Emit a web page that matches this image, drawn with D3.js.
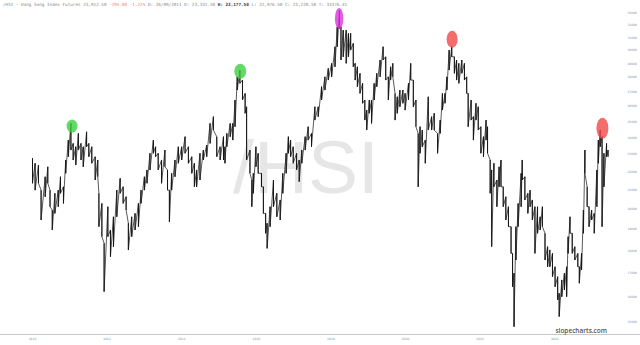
<!DOCTYPE html>
<html>
<head>
<meta charset="utf-8">
<script src="https://cdn.jsdelivr.net/npm/d3@7"></script>
<style>
  body { margin: 0; background: #fff; }
  svg { display: block; }
</style>
</head>
<body>
<div id="chart"></div>
<script>
// sampled HSI futures highs/lows (decimal year)
const years = [
  2010.00, 2010.07, 2010.16, 2010.23, 2010.34, 2010.41, 2010.47, 2010.53, 2010.60, 2010.69,
  2010.75, 2010.83, 2010.89, 2010.96, 2011.03, 2011.09, 2011.16, 2011.23, 2011.30, 2011.36,
  2011.45, 2011.51, 2011.59, 2011.68, 2011.75, 2011.78, 2011.86, 2011.92, 2012.02, 2012.09,
  2012.17, 2012.26, 2012.35, 2012.43, 2012.51, 2012.57, 2012.66, 2012.75, 2012.84, 2012.91,
  2013.00, 2013.07, 2013.15, 2013.24, 2013.30, 2013.37, 2013.46, 2013.55, 2013.62, 2013.67,
  2013.73, 2013.82, 2013.91, 2014.00, 2014.09, 2014.18, 2014.27, 2014.34, 2014.40, 2014.49,
  2014.58, 2014.67, 2014.76, 2014.85, 2014.94, 2015.03,
  2015.12, 2015.16, 2015.21, 2015.30, 2015.37, 2015.43, 2015.49, 2015.56, 2015.63, 2015.70,
  2015.74, 2015.83, 2015.88, 2015.92, 2015.99, 2016.05, 2016.14, 2016.19, 2016.25, 2016.29,
  2016.37, 2016.46, 2016.55, 2016.64, 2016.71, 2016.80, 2016.86, 2016.92, 2016.99, 2017.08,
  2017.15, 2017.22, 2017.31, 2017.39, 2017.48, 2017.57, 2017.66, 2017.75, 2017.84, 2017.93,
  2018.02, 2018.11, 2018.17, 2018.23, 2018.27, 2018.33, 2018.41, 2018.47, 2018.53, 2018.60,
  2018.65, 2018.71, 2018.78, 2018.85, 2018.91, 2018.96, 2019.03, 2019.09, 2019.16, 2019.23,
  2019.32, 2019.40, 2019.47, 2019.54, 2019.60, 2019.66, 2019.72, 2019.78, 2019.85, 2019.93,
  2019.99, 2020.08, 2020.14, 2020.21, 2020.28, 2020.34,
  2020.39, 2020.45, 2020.53, 2020.61, 2020.70, 2020.77, 2020.86, 2020.93, 2020.99, 2021.06,
  2021.11, 2021.17, 2021.24, 2021.31, 2021.37, 2021.43, 2021.51, 2021.58, 2021.64, 2021.68,
  2021.76, 2021.82, 2021.89, 2021.95, 2022.02, 2022.09, 2022.16, 2022.20, 2022.27, 2022.31,
  2022.37, 2022.45, 2022.51, 2022.56, 2022.62, 2022.69, 2022.76, 2022.83, 2022.87, 2022.91,
  2022.96, 2023.02, 2023.10, 2023.13, 2023.20, 2023.28, 2023.34, 2023.40, 2023.47, 2023.54,
  2023.61, 2023.67, 2023.74, 2023.81, 2023.87, 2023.94, 2024.01, 2024.08, 2024.12, 2024.19,
  2024.26, 2024.32, 2024.36, 2024.41, 2024.47, 2024.54, 2024.62, 2024.66, 2024.72, 2024.77,
  2024.81, 2024.87, 2024.92, 2024.99, 2025.06, 2025.13, 2025.17, 2025.22, 2025.27, 2025.32,
  2025.39, 2025.43
];

const highs = [
  22780, 22490, 22390, 21000, 21730, 22290, 21000, 19960, 20830, 21000,
  21730, 21180, 22680, 23860, 24900, 23660, 23460, 24270, 23660, 23460,
  24370, 23660, 23460, 22870, 22680, 20830, 20300, 18340, 20130, 18970,
  19620, 21000, 21640, 21180, 20650, 19300, 19620, 19790, 20300, 21000,
  21730, 22110, 23070, 23860, 23460, 23070, 22680, 23260, 22110, 21000,
  21920, 22680, 23460, 23460, 24070, 23460, 22870, 22490, 22110, 23070,
  23260, 23560, 24900, 25330, 24070, 23460,
  24070, 23460, 24270, 24900, 24900, 26430, 28040, 28530, 27810, 26880,
  25980, 23260, 21550, 21920, 23460, 23070, 21920, 21180, 19790, 19300,
  20130, 21550, 20830, 20480, 21920, 23070, 24070, 23860, 23460, 23070,
  22680, 23260, 24070, 24690, 24270, 25980, 25980, 27340, 28040, 28650,
  29020, 30280, 31860, 33250, 31860, 31590, 31590, 31330, 31330, 30540,
  29020, 28770, 28290, 27580, 26430, 25760, 26430, 26430, 27580, 28290,
  29270, 30280, 29510, 28040, 28770, 29020, 26880, 26650, 27110, 27110,
  26880, 27580, 29020, 27810, 26430, 24270,
  24690, 24480, 23860, 26650, 25330, 25550, 24270, 25110, 26880, 26880,
  28040, 30020, 30280, 29510, 29270, 29020, 29270, 29020, 28040, 26880,
  26430, 25330, 26210, 25980, 24690, 24070, 25110, 24690, 22680, 22110,
  22490, 21550, 22290, 22680, 21180, 20650, 20130, 19130, 17870, 16990,
  19130, 20300, 21920, 22680, 21730, 20830, 21000, 20480, 20130, 20130,
  19620, 20130, 18810, 18180, 18030, 17870, 17270, 16840, 16140, 16700,
  16990, 17270, 18650, 19620, 18810, 18180, 17870, 17270, 17870, 19960,
  23260, 21180, 20130, 19960, 19790, 22110, 23860, 24480, 24070, 23070,
  23660, 23260
];

const lows = [
  21370, 21000, 21370, 19460, 20650, 21370, 20130, 18970, 19790, 20130,
  20830, 20300, 21920, 22870, 23260, 22680, 22390, 23260, 22680, 22290,
  23460, 22870, 22490, 21550, 21730, 19130, 18650, 16210, 18650, 17720,
  18180, 19620, 20830, 20300, 19960, 18030, 18650, 18970, 19130, 20300,
  21000, 21370, 22110, 23070, 22870, 22110, 21370, 22290, 21000, 19370,
  21000, 21730, 22490, 22680, 23070, 22490, 21920, 21180, 21180, 21550,
  22680, 22870, 23660, 24480, 22870, 22680,
  22680, 22490, 23460, 24070, 23860, 24690, 27110, 27580, 26430, 25550,
  22680, 21920, 20130, 20830, 22290, 21920, 21180, 19790, 18810, 18100,
  19130, 20130, 19620, 19460, 20830, 21920, 23070, 22870, 22490, 22110,
  21460, 22490, 23260, 23860, 23460, 25110, 25330, 26430, 27110, 27810,
  28040, 28770, 30280, 31730, 29270, 29510, 29020, 29510, 30020, 28770,
  27810, 27340, 26880, 26210, 25110, 24480, 25550, 24900, 26430, 27340,
  28040, 29270, 27810, 26430, 27810, 28040, 25110, 25550, 25980, 26210,
  25760, 26430, 27810, 25980, 24690, 21180,
  23070, 23460, 22490, 24480, 24480, 24480, 23070, 24270, 25760, 26210,
  27110, 28530, 29510, 28290, 27810, 27580, 28290, 27810, 26880, 24690,
  25110, 23860, 25110, 24480, 23070, 22870, 23860, 23070, 20830, 18180,
  21180, 20130, 21180, 21180, 20130, 19460, 19130, 17870, 16410, 14820,
  17570, 19130, 20130, 21550, 20480, 19790, 20130, 19460, 17870, 18810,
  18970, 19130, 17570, 17270, 17270, 16840, 16410, 15870, 15210, 16000,
  16280, 16000, 17870, 18810, 17870, 17570, 17270, 16560, 17130, 18810,
  21920, 20130, 19130, 19460, 18810, 20130, 22490, 23460, 19130, 21180,
  22870, 22870
];

// highlighted tops
const markerYears = [2011.06, 2015.57, 2018.22, 2021.25, 2025.28];
const markerPrices = [24730, 28440, 32550, 30860, 24590];
const markerColors = ["#3fd03f", "#3fd03f", "#dd33dd", "#f04848", "#f04848"];

const xTicks = [2010, 2012, 2014, 2016, 2018, 2020, 2022, 2024];
const yTicks = [15000, 16000, 17000, 18000, 19000, 20000, 21000, 22000, 23000, 24000,
  25000, 26000, 27000, 28000, 29000, 30000, 31000, 32000, 33000];

const width = 640, height = 345;
const markerSize = [[5.5, 6.5], [6, 7.5], [4.2, 10.5], [5.5, 8.5], [6, 10.5]];

const svg = d3.select("#chart").append("svg")
  .attr("width", width)
  .attr("height", height)
  .style("background", "#fff");

const x = d3.scaleLinear().domain([2010, 2024]).range([32.5, 554.7]);
const y = d3.scaleLog().domain([15000, 33000]).range([322, 13]);

// watermark
svg.append("text")
  .attr("x", 306).attr("y", 193)
  .attr("text-anchor", "middle")
  .style("font-family", "Liberation Sans, Arial, sans-serif")
  .style("font-size", "75px")
  .style("fill", "#e6e6e6")
  .text("/HSI");

// header
const header = svg.append("text")
  .attr("x", 3).attr("y", 6)
  .style("font-family", "DejaVu Sans Mono, monospace")
  .style("font-size", "4.3px")
  .style("fill", "#8a8a8a");
header.append("tspan").text("/HSI - Hang Seng Index Futures 23,912.50 ");
header.append("tspan").style("fill", "#f08080").text("-295.00 -1.22% ");
header.append("tspan").text("D: 26/09/2011 O: 23,331.50 ");
header.append("tspan").style("fill", "#333").style("font-weight", "bold").text("H: 23,177.50 ");
header.append("tspan").text("L: 22,976.50 C: 23,220.50 T:  33376.41");

// bottom axis line
svg.append("line")
  .attr("x1", 0).attr("x2", width)
  .attr("y1", 334.5).attr("y2", 334.5)
  .attr("stroke", "#c8c8c8").attr("stroke-width", 1);

svg.append("g").selectAll("text")
  .data(xTicks).enter().append("text")
  .attr("x", d => x(d)).attr("y", 340)
  .attr("text-anchor", "middle")
  .style("font-family", "DejaVu Sans, sans-serif")
  .style("font-size", "3px")
  .style("fill", "#8890a0")
  .text(d => d);

svg.append("g").selectAll("text")
  .data(yTicks).enter().append("text")
  .attr("x", 637).attr("y", d => y(d) + 1)
  .attr("text-anchor", "end")
  .style("font-family", "DejaVu Sans, sans-serif")
  .style("font-size", "3px")
  .style("fill", "#8890a0")
  .text(d => d);

// price path: high -> low for each sample
const pts = [];
years.forEach((t, i) => {
  pts.push([t, highs[i]]);
  pts.push([t, lows[i]]);
});

const line = d3.line().x(d => x(d[0])).y(d => y(d[1]));

svg.append("path")
  .datum(pts)
  .attr("d", line)
  .attr("fill", "none")
  .attr("stroke", "#222")
  .attr("stroke-width", 0.75)
  .attr("stroke-linejoin", "round");

svg.append("g").selectAll("line")
  .data(years).enter().append("line")
  .attr("x1", d => x(d)).attr("x2", d => x(d))
  .attr("y1", (d, i) => y(highs[i]))
  .attr("y2", (d, i) => y(lows[i]))
  .attr("stroke", "#151515")
  .attr("stroke-width", 1);

// markers
svg.append("g").selectAll("ellipse")
  .data(markerYears).enter().append("ellipse")
  .attr("cx", d => x(d))
  .attr("cy", (d, i) => y(markerPrices[i]))
  .attr("rx", (d, i) => markerSize[i][0])
  .attr("ry", (d, i) => markerSize[i][1])
  .attr("fill", (d, i) => markerColors[i])
  .attr("fill-opacity", 0.8);

svg.append("text")
  .attr("x", 607).attr("y", 332.5)
  .attr("text-anchor", "end")
  .style("font-family", "Open Sans, sans-serif")
  .style("font-size", "6.5px")
  .style("font-weight", "600")
  .style("fill", "#555")
  .text("slopecharts.com");
</script>
</body>
</html>
